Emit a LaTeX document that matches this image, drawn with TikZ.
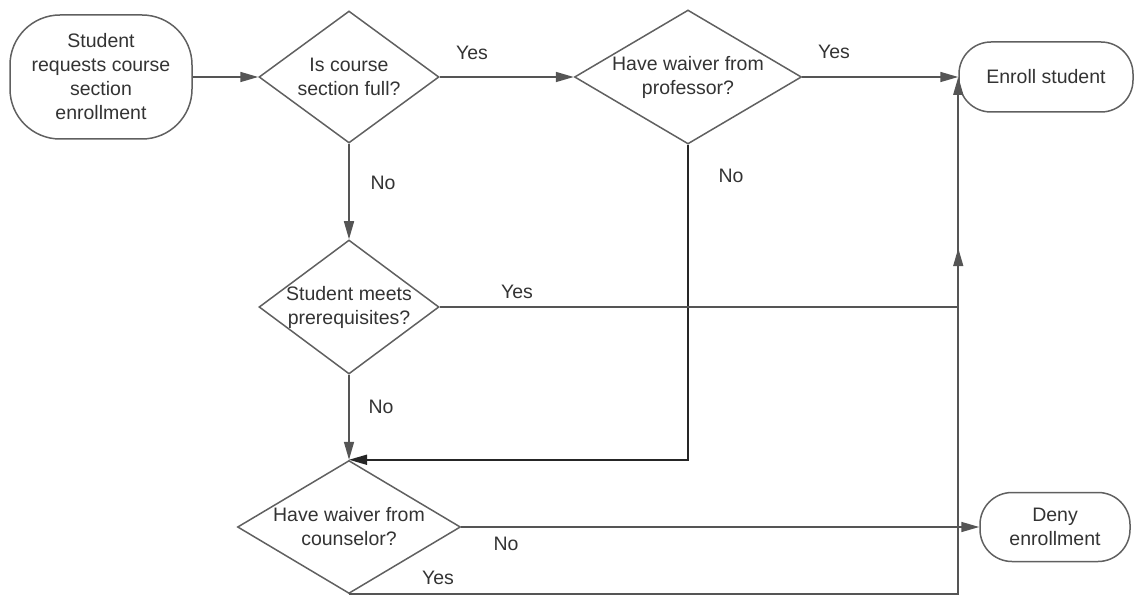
\documentclass[tikz,border=0pt]{standalone}
\usepackage{fontspec}
\setmainfont{Liberation Sans}
\usetikzlibrary{shapes.geometric,arrows.meta,decorations.markings}
\definecolor{lncol}{HTML}{555555}
\definecolor{shcol}{HTML}{606060}
\definecolor{txcol}{HTML}{333333}
\begin{document}
\begin{tikzpicture}[x=1pt,y=-1pt,
  every node/.style={font=\fontsize{19.5}{24}\selectfont, text=txcol},
  term/.style={draw=shcol, line width=1.5pt, rectangle, inner sep=0pt, align=center},
  dia/.style={draw=shcol, line width=1.5pt, diamond, inner sep=0pt},
  lbl/.style={align=center, inner sep=0pt},
  plain/.style={draw=lncol, line width=1.6pt},
  arr/.style={plain, -{Triangle[length=18pt,width=10pt]}},
  midarrow/.style={postaction={decorate}, decoration={markings,
    mark=at position #1 with {\arrow{Triangle[length=18pt,width=10pt]}}}}
]
\useasboundingbox (0,0) rectangle (1135,596);

% terminals
\node[term, minimum width=182pt, minimum height=124pt, rounded corners=50pt] (start) at (101,77) {Student\\requests course\\section\\enrollment};
\node[term, minimum width=174pt, minimum height=70pt, rounded corners=32pt] (enroll) at (1046,77) {Enroll student};
\node[term, minimum width=150pt, minimum height=69pt, rounded corners=32pt] (deny) at (1055,527) {Deny\\enrollment};

% decisions
\node[dia, minimum width=180pt, minimum height=132pt] (d1) at (349,77) {};
\node[lbl] (t1) at (d1.center) {Is course\\section full?};
\node[dia, minimum width=227pt, minimum height=134pt] (d2) at (688,77) {};
\node[lbl] (t2) at (d2.center) {Have waiver from\\professor?};
\node[dia, minimum width=180pt, minimum height=134pt] (d3) at (349,307) {};
\node[lbl] (t3) at (d3.center) {Student meets\\prerequisites?};
\node[dia, minimum width=223pt, minimum height=133pt] (d4) at (349,527) {};
\node[lbl] (t4) at (d4.center) {Have waiver from\\counselor?};

% labels
\node[lbl] (y1) at (472,53) {Yes};
\node[lbl] (y2) at (834,52) {Yes};
\node[lbl] (n1) at (383,183) {No};
\node[lbl] (n2) at (731,176) {No};
\node[lbl] (y3) at (517,292) {Yes};
\node[lbl] (n3) at (381,407) {No};
\node[lbl] (n4) at (506,544) {No};
\node[lbl] (y4) at (438,578) {Yes};

% connectors
\draw[arr] (start.east) -- (d1.west);
\draw[arr] (d1.east) -- (d2.west);
\draw[arr] (d2.east) -- (enroll.west);
\draw[arr] (d1.south) -- (d3.north);
\draw[arr] (d3.south) -- (d4.north);
\draw[arr, draw=black!85] (d2.south) |- (d4.north);
\draw[plain] (d3.east) -- (d3.east -| enroll.west);
\draw[arr, midarrow=0.848] (d4.south) -| (enroll.west);
\draw[arr] (d4.east) -- (deny.west);
\end{tikzpicture}
\end{document}
